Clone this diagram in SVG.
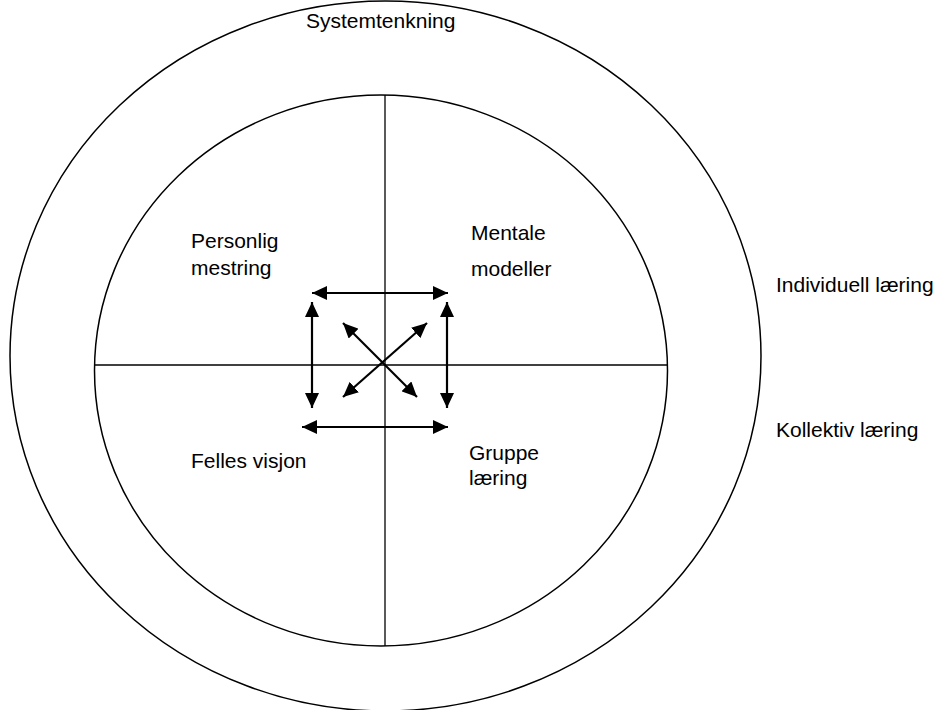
<svg xmlns="http://www.w3.org/2000/svg" width="938" height="710" viewBox="0 0 938 710">
<style>
.ring{fill:none;stroke:#000;stroke-width:1.5}
.div{stroke:#000;stroke-width:1.3}
.arr{stroke:#000;stroke-width:2.2;fill:none;marker-start:url(#ah);marker-end:url(#ah)}
text{font-family:"Liberation Sans",Arial,sans-serif;font-size:21px;fill:#000}
</style>
<defs>
<marker id="ah" markerUnits="userSpaceOnUse" markerWidth="16" markerHeight="14" viewBox="0 0 16 14" refX="15" refY="7" orient="auto-start-reverse">
<path d="M0,0 L15,7 L0,14 Z" fill="#000"/>
</marker>
</defs>
<g id="outer">
<ellipse class="ring" cx="385.5" cy="356" rx="375.5" ry="355"/>
<text x="306" y="28">Systemtenkning</text>
</g>
<g id="inner">
<ellipse class="ring" cx="381" cy="370.5" rx="286.5" ry="275.5"/>
<line class="div" x1="385" y1="95" x2="385" y2="646"/>
<line class="div" x1="95" y1="365" x2="667" y2="365"/>
</g>
<g id="personlig-mestring"><text x="191" y="248">Personlig</text><text x="191" y="275">mestring</text></g>
<g id="mentale-modeller"><text x="471" y="240">Mentale</text><text x="471" y="276">modeller</text></g>
<g id="felles-visjon"><text x="191" y="468">Felles visjon</text></g>
<g id="gruppe-laering"><text x="469" y="460">Gruppe</text><text x="469" y="485">læring</text></g>
<g id="individuell"><text x="776" y="292">Individuell læring</text></g>
<g id="kollektiv"><text x="776" y="437">Kollektiv læring</text></g>
<g id="connectors">
<line class="arr" x1="312" y1="293" x2="448" y2="293"/>
<line class="arr" x1="302" y1="427" x2="448" y2="427"/>
<line class="arr" x1="312" y1="302" x2="312" y2="408"/>
<line class="arr" x1="447" y1="302" x2="447" y2="408"/>
<line class="arr" x1="343" y1="323" x2="417" y2="397"/>
<line class="arr" x1="427" y1="323" x2="343" y2="397"/>
</g>
</svg>
